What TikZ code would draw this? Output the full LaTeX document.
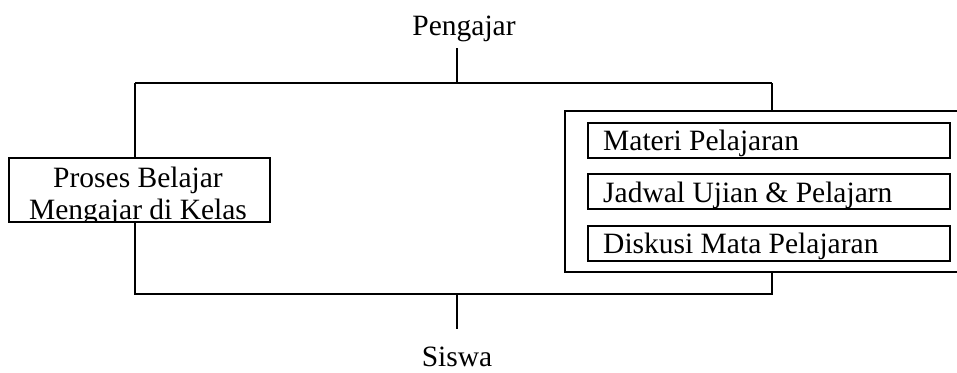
\documentclass[tikz,border=0pt]{standalone}
\usepackage{fontspec}
\setmainfont{Liberation Serif}
\begin{document}
\begin{tikzpicture}[x=1pt,y=-1pt,
  conn/.style={line width=1.6pt},
  lbl/.style={font=\fontsize{29.5}{33}\selectfont, inner sep=0pt, anchor=base},
  boxline/.style={draw, line width=2pt},
  itembox/.style={draw, line width=2pt, minimum width=362pt, minimum height=35pt, inner sep=0pt, anchor=north west}]
\useasboundingbox (0,0) rectangle (957,372);
% labels
\node[lbl] (peng) at (464,35) {Pengajar};
\node[lbl] (siswa) at (457,366) {Siswa};
\coordinate (pstem) at (457,48);
\coordinate (sstem) at (457,329);
% frame
\coordinate (tl) at (135,83);
\coordinate (tr) at (772,83);
\coordinate (tj) at (457,83);
\coordinate (bl) at (135,294);
\coordinate (br) at (772,294);
\coordinate (bj) at (457,294);
% left box
\node[boxline, minimum width=261pt, minimum height=64pt, inner sep=0pt, anchor=north west] (lbox) at (8,157) {};
\begin{scope}
\clip (8,157) rectangle (269,220);
\node[lbl] (l1) at (138,187) {Proses Belajar};
\node[lbl] (l2) at (138,219) {Mengajar di Kelas};
\end{scope}
% outer right box
\coordinate (otop) at (772,111);
\coordinate (obot) at (772,272);
\draw[boxline] (957,111) -- (565,111) -- (565,272) -- (957,272);
% inner boxes
\node[itembox] (b1) at (587,122) {};
\node[itembox] (b2) at (587,173) {};
\node[itembox] (b3) at (587,225) {};
\node[lbl, anchor=base west] (t1) at (603,150) {Materi Pelajaran};
\node[lbl, anchor=base west] (t2) at (603,202) {Jadwal Ujian \& Pelajarn};
\node[lbl, anchor=base west] (t3) at (603,253) {Diskusi Mata Pelajaran};
% connectors
\draw[conn] (pstem) -- (tj);
\draw[conn] (tl) -- (tr);
\draw[conn] (tl) -- (lbox.north -| tl);
\draw[conn] (tr) -- (otop);
\draw[conn] (lbox.south -| bl) -- (bl) -- (br) -- (obot);
\draw[conn] (bj) -- (sstem);
\end{tikzpicture}
\end{document}
